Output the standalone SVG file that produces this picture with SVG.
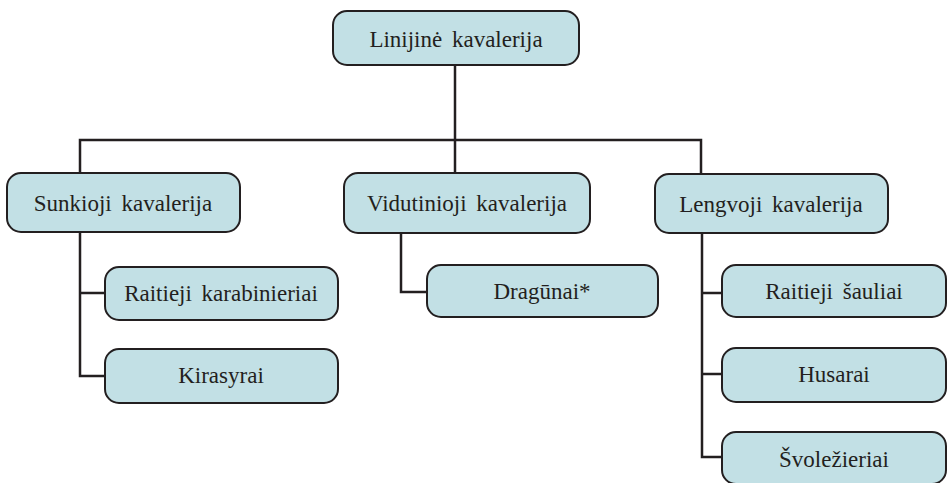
<svg xmlns="http://www.w3.org/2000/svg" width="948" height="483" viewBox="0 0 948 483">
<style>
.box{fill:#c2e0e5;stroke:#231f20;stroke-width:2}
.lbl{font-family:'Liberation Serif','DejaVu Serif',serif;font-size:23px;fill:#231f20;text-anchor:middle;word-spacing:4px}
.conn{fill:none;stroke:#231f20;stroke-width:2.5}
</style>
<rect width="948" height="483" fill="#ffffff"/>
<g id="connectors">
<path class="conn" d="M455,65 V140"/>
<path class="conn" d="M80,173 V140 H701 V174"/>
<path class="conn" d="M455,140 V173"/>
<path class="conn" d="M80,232 V376 H105 M80,293 H105"/>
<path class="conn" d="M401,233 V292 H427"/>
<path class="conn" d="M702,233 V457 H722 M702,293 H722 M702,374 H722"/>
</g>
<g id="root"><rect class="box" x="333" y="11" width="246" height="54" rx="14"/><text class="lbl" x="456" y="47">Linijinė kavalerija</text></g>
<g id="sunkioji"><rect class="box" x="7" y="173" width="233" height="59" rx="14"/><text class="lbl" x="123" y="211">Sunkioji kavalerija</text></g>
<g id="vidutinioji"><rect class="box" x="344" y="173" width="246" height="60" rx="14"/><text class="lbl" x="467" y="211">Vidutinioji kavalerija</text></g>
<g id="lengvoji"><rect class="box" x="655" y="174" width="233" height="59" rx="14"/><text class="lbl" x="771" y="212">Lengvoji kavalerija</text></g>
<g id="karabinieriai"><rect class="box" x="105" y="267" width="233" height="53" rx="14"/><text class="lbl" x="221" y="301">Raitieji karabinieriai</text></g>
<g id="kirasyrai"><rect class="box" x="105" y="349" width="233" height="54" rx="14"/><text class="lbl" x="221" y="383">Kirasyrai</text></g>
<g id="dragunai"><rect class="box" x="427" y="265" width="231" height="52" rx="14"/><text class="lbl" x="542" y="299">Dragūnai*</text></g>
<g id="sauliai"><rect class="box" x="722" y="265" width="224" height="52" rx="14"/><text class="lbl" x="834" y="299">Raitieji šauliai</text></g>
<g id="husarai"><rect class="box" x="722" y="348" width="224" height="54" rx="14"/><text class="lbl" x="834" y="382">Husarai</text></g>
<g id="svolezieriai"><rect class="box" x="722" y="432" width="224" height="52" rx="14"/><text class="lbl" x="834" y="467">Švoležieriai</text></g>
</svg>
